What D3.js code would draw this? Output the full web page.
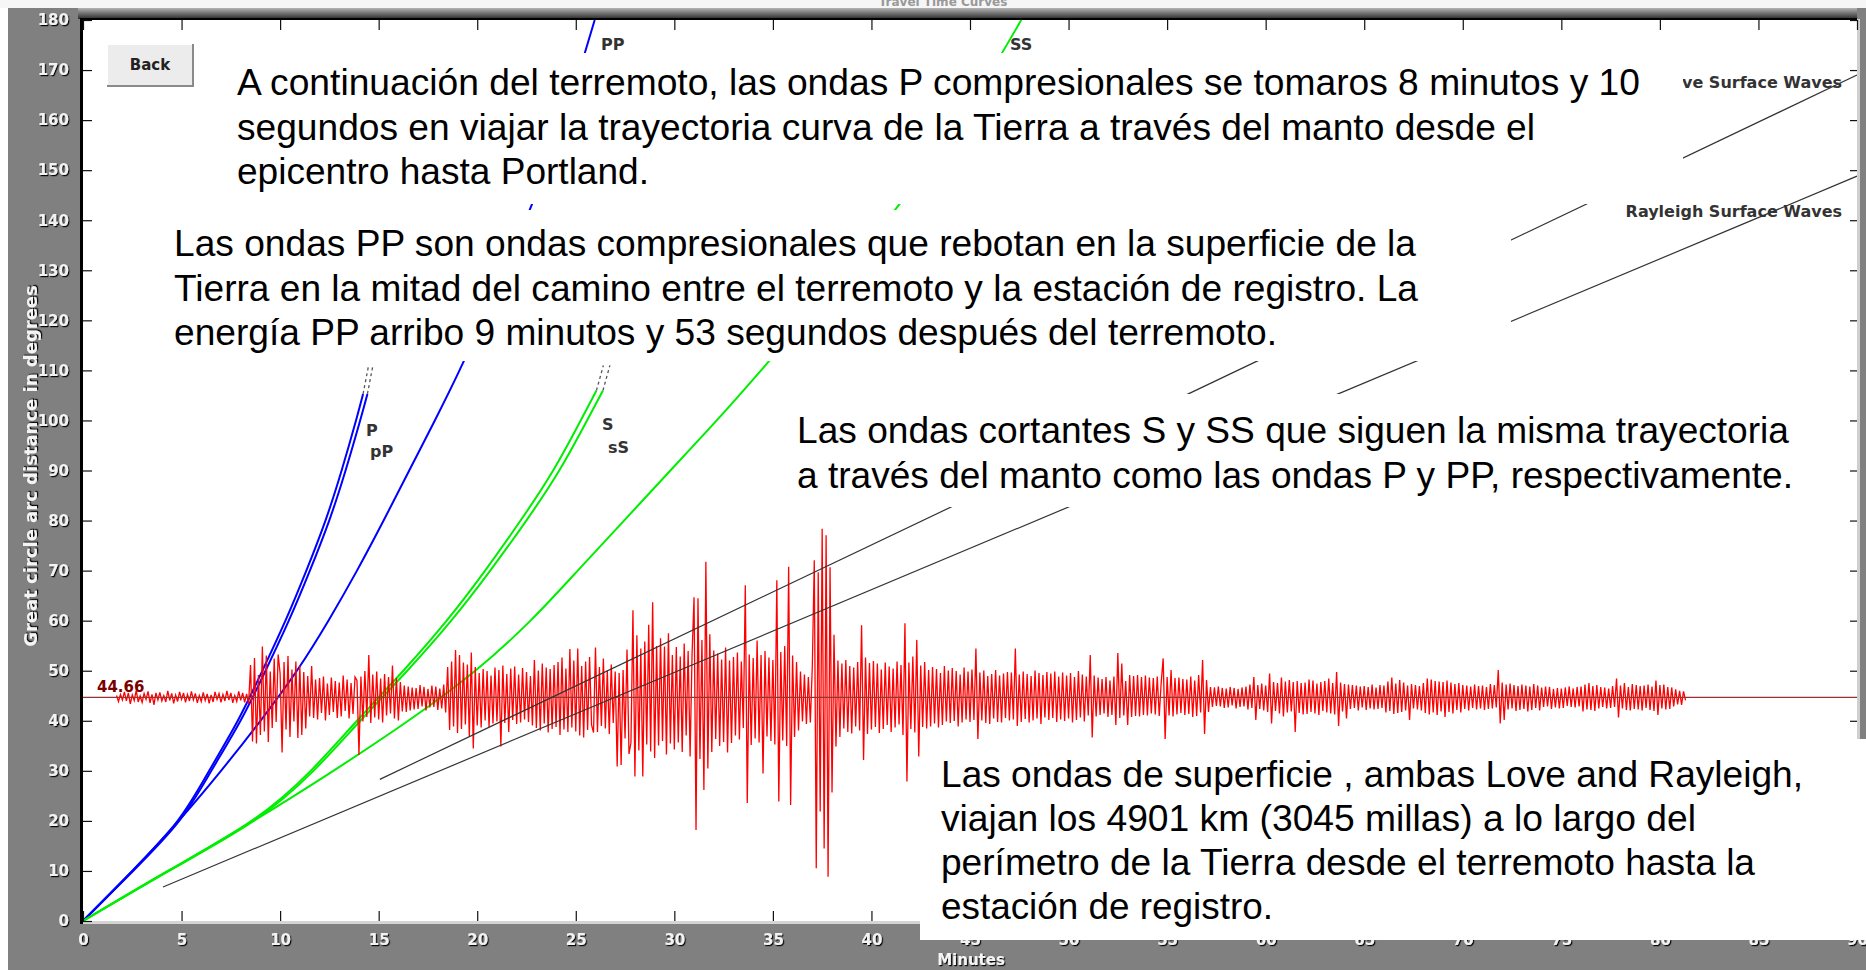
<!DOCTYPE html>
<html>
<head>
<meta charset="utf-8">
<title>Travel Time Curves</title>
<script src="https://cdn.jsdelivr.net/npm/d3@7"></script>
<style>
  body { margin: 0; background: #fff; }
  svg { display: block; }
  .note { font-family: "Liberation Sans", Arial, sans-serif; font-size: 36px; fill: #000; }
  .lbl { font-family: "DejaVu Sans", sans-serif; font-weight: bold; font-size: 16px; fill: #333; }
  .axis text { font-family: "DejaVu Sans", sans-serif; font-weight: bold; font-size: 15px; fill: #f2f2f2; }
</style>
</head>
<body>
<script>
// travel time curves, [minutes, degrees]
var pWave  = [[0,0],[2.5,10],[4.8,20],[6.4,30],[7.85,40],[9.1,50],[10.27,60],[11.33,70],[12.3,80],[13.12,90],[13.85,100],[14.21,105.3]];
var ppWave = [[0,0],[2.54,10],[4.88,20],[6.51,30],[7.99,40],[9.26,50],[10.44,60],[11.51,70],[12.49,80],[13.32,90],[14.06,100],[14.43,105.3]];
var PPWave = [[0,0],[2.5,10],[4.85,20],[7.0,30],[9.0,40],[10.85,50],[12.45,60],[13.9,70],[15.25,80],[16.55,90],[17.85,100],[19.1,110],[20.25,120],[21.35,130],[22.45,140],[23.45,150],[24.4,160],[25.2,170],[25.96,180]];
var sWave  = [[0,0],[4.3,10],[8.55,20],[11.55,30],[13.9,40],[16.25,50],[18.45,60],[20.4,70],[22.2,80],[23.85,90],[25.25,100],[26.05,106]];
var ssWave = [[0,0],[4.35,10],[8.65,20],[11.69,30],[14.07,40],[16.45,50],[18.68,60],[20.66,70],[22.49,80],[24.16,90],[25.57,100],[26.38,106]];
var SSWave = [[0,0],[4.35,10],[8.65,20],[12.7,30],[16.5,40],[19.9,50],[22.7,60],[25.1,70],[27.45,80],[29.8,90],[32.15,100],[34.4,110],[36.6,120],[38.75,130],[40.8,140],[42.7,150],[44.45,160],[46.1,170],[47.6,180]];
var loveWave     = [[15.06,28.3],[90,169]];
var rayleighWave = [[4.06,6.8],[90,148.8]];
// dotted continuation above the shadow zone
var pExt  = [[14.21,105.3],[14.47,110.6]];
var ppExt = [[14.43,105.3],[14.69,110.6]];
var sExt  = [[26.05,106],[26.4,111]];
var ssExt = [[26.38,106],[26.73,111]];

// seismogram at the station, offsets in degrees about the station distance
var stationDist = 44.66;
var traceStart = 1.7, traceStep = 0.1;
var traceRows = [
  [0.4,-0.8,0.6],
  [-0.5,1.1,-0.7,0.9,-1.3,0.5,-0.6,1.4,-0.9,0.3],
  [-1.0,0.8,-0.4,1.2,-1.1,0.6,-1.5,0.9,-0.5,1.0],
  [-0.7,0.4,-0.9,1.3,-0.6,0.8,-1.2,0.5,-0.8,1.1],
  [-0.4,0.9,-1.0,0.6,-0.7,1.2,-0.5,0.8,-1.1,0.4],
  [-0.8,1.0,-0.6,0.7,-1.2,0.5,-0.9,1.1,-0.4,0.8],
  [-1.0,0.6,-0.7,1.3,-0.5,0.9,-1.1,0.4,-0.8,1.2],
  [-0.6,0.9,-1.0,0.7,-1.3,6.5,-8.8,7.9,-9.2,4.5],
  [-7.5,10.2,-6.8,8.4,-8.9,5.2,-6.1,7.8,-4.9,8.6],
  [4.8,-11.0,7.1,-6.4,8.3,-7.9,5.6,-4.8,7.2,-8.1],
  [6.4,-7.5,5.1,-6.2,4.3,-3.8,6.3,-4.1,3.6,-4.4],
  [3.9,-3.1,4.2,-4.6,2.8,-3.5,4.0,-2.9,3.3,-4.1],
  [3.0,-3.8,4.4,-2.7,3.6,-4.2,2.9,-3.3,4.1,3.4],
  [-11.5,4.2,-4.8,5.3,-3.9,8.5,-5.1,4.6,-4.0,5.2],
  [-4.4,3.8,-5.0,4.7,-3.6,4.1,-3.2,6.4,-4.2,3.9],
  [-4.6,3.1,-2.8,2.4,-2.9,2.2,-2.6,2.0,-2.4,1.9],
  [-2.3,2.5,-1.8,2.1,-2.6,1.7,-2.0,2.4,-1.9,2.2],
  [-2.5,1.8,-2.2,2.6,-3.0,6.1,-6.5,7.2,-5.8,9.5],
  [-7.1,8.5,-6.3,7.0,-5.4,6.6,-7.8,9.0,-10.2,6.1],
  [-5.6,4.9,-6.0,5.7,-4.6,5.3,-5.9,4.4,-5.2,6.0],
  [-4.8,5.5,-9.8,6.4,-5.1,4.7,-6.9,5.8,-4.5,6.2],
  [-5.3,4.6,-5.0,5.9,-4.4,5.1,-4.9,4.3,-5.6,7.5],
  [-6.1,5.4,-6.6,6.8,-5.2,6.0,-7.0,5.7,-6.3,6.5],
  [-5.9,7.1,-7.5,8.0,-6.4,5.8,-6.9,9.7,-6.0,7.4],
  [-6.8,9.8,-7.6,6.3,-8.0,7.2,-6.5,8.1,-5.5,-7.0],
  [10.0,-6.9,6.1,-5.7,7.8,-6.2,5.4,-7.3,6.6,-5.1],
  [5.2,-13.8,4.9,-13.5,5.5,-8.2,9.6,-11.3,-9.0,17.4],
  [-15.8,12.4,-10.6,9.8,-15.8,11.2,-9.4,14.5,-10.8,19.0],
  [-12.1,10.3,-9.6,11.8,-8.7,10.2,-11.4,12.8,-9.2,8.5],
  [-10.4,10.1,-9.0,8.2,-10.9,10.8,-7.6,9.3,-11.8,8.8],
  [20.0,-26.5,19.8,-12.3,11.5,-18.5,27.1,-14.2,12.6,-10.9],
  [9.4,-8.3,8.8,-9.7,7.6,-8.9,10.0,-11.0,7.4,-9.1],
  [8.1,-7.6,9.0,-8.4,7.2,-6.1,22.4,-21.1,8.6,-9.5],
  [7.9,-8.2,11.4,-9.0,8.5,-15.2,9.3,-7.8,8.0,-8.7],
  [7.5,-9.4,23.4,-20.8,9.1,-8.6,10.3,-9.7,26.1,-21.5],
  [8.4,-7.9,7.1,-6.6,5.2,-4.8,4.6,-5.3,4.1,-5.0],
  [6.2,27.4,-34.1,25.0,-22.8,33.7,-30.2,32.4,-35.8,26.0],
  [-19.0,12.5,-9.8,7.4,-7.9,6.8,-6.2,7.5,-6.9,6.3],
  [-7.2,6.0,-5.8,7.1,-6.6,14.4,-12.5,8.0,-7.3,6.9],
  [-6.4,7.3,-5.9,6.8,-7.1,5.6,-6.3,7.0,-5.5,6.2],
  [-6.9,5.8,-6.0,7.2,-5.4,6.5,-7.5,14.8,-16.8,7.0],
  [-6.3,8.2,-7.0,11.5,-11.8,6.4,-5.9,7.1,-6.2,5.5],
  [-5.8,6.1,-5.2,5.7,-6.0,4.9,-5.5,6.3,-4.8,5.4],
  [-5.1,5.9,-4.7,5.3,-5.8,4.6,-5.0,6.0,-4.4,5.2],
  [-4.9,5.6,-4.5,9.8,-8.5,5.0,-4.6,5.4,-5.1,4.3],
  [-5.3,4.7,-4.2,5.5,-4.9,4.4,-5.0,4.8,-4.1,5.1],
  [-4.6,5.0,-4.4,9.8,-5.7,4.6,-4.9,5.2,-4.3,4.7],
  [-5.0,4.3,-4.6,5.4,-4.2,4.9,-5.3,4.5,-4.0,5.1],
  [-4.5,4.8,-4.1,5.2,-4.9,4.2,-4.4,5.0,-4.7,4.4],
  [-4.2,4.9,-5.0,4.1,-4.5,5.3,-4.0,4.6,-4.8,4.2],
  [-3.6,8.5,-8.0,4.4,-3.8,4.0,-3.5,3.7,-3.2,4.1],
  [-3.9,3.4,-3.5,4.2,-5.5,8.9,-4.1,6.8,-3.6,3.3],
  [-5.5,4.5,-3.9,4.3,-3.7,4.5,-3.8,4.1,-3.5,4.4],
  [-3.6,4.0,-3.2,3.9,-3.4,4.2,-3.7,3.0,7.8,-8.4],
  [4.1,-3.6,5.5,-3.8,3.9,-3.4,4.0,-3.1,3.7,-3.5],
  [3.6,-3.3,4.2,-3.9,3.4,-3.7,4.5,-3.0,7.5,-7.3],
  [3.5,-2.9,2.1,-1.9,2.0,-1.7,2.2,-1.8,1.9,-2.1],
  [1.8,-2.0,2.1,-1.6,1.9,-2.2,1.7,-1.9,2.0,-1.8],
  [2.2,-2.4,2.6,-2.1,4.1,-4.5,2.5,-2.3,2.8,-2.6],
  [2.4,-2.9,4.8,-5.2,3.1,-2.7,2.9,-3.2,4.0,-3.8],
  [3.2,-3.0,3.5,-2.8,3.1,-6.9,3.3,-3.1,2.9,-3.4],
  [3.0,-3.3,3.6,-2.9,3.4,-3.2,2.8,-3.5,3.1,-2.7],
  [3.3,-3.0,3.8,-3.2,2.9,-3.4,5.1,-5.7,3.0,-2.8],
  [2.7,-4.2,2.6,-2.3,2.5,-2.1,2.4,-2.6,2.2,-2.0],
  [2.3,-2.5,2.1,-2.2,2.6,-2.4,2.0,-2.3,2.5,-2.1],
  [2.4,-3.0,3.2,-2.7,4.0,-3.3,2.8,-3.1,3.5,-2.9],
  [3.0,-2.6,2.4,-4.5,2.7,-2.2,2.5,-2.4,2.3,-2.6],
  [2.9,-3.1,3.8,-3.4,3.6,-3.0,3.3,-3.5,3.2,-2.8],
  [3.1,-3.9,3.4,-2.9,3.0,-3.2,2.7,-2.5,2.9,-3.0],
  [2.5,-2.3,2.4,-2.6,2.2,-2.1,2.6,-2.4,2.3,-2.2],
  [2.4,-2.5,2.1,-2.3,2.7,-2.2,2.5,-2.0,5.5,-5.2],
  [3.0,-4.5,2.6,-2.4,2.8,-2.2,2.5,-2.7,2.3,-2.5],
  [2.6,-2.3,2.4,-2.8,2.2,-2.5,2.7,-2.1,2.4,-2.6],
  [2.0,-1.9,2.2,-1.8,2.1,-2.3,1.7,-2.0,1.9,-2.2],
  [1.8,-2.1,2.0,-1.7,2.2,-1.9,1.8,-2.0,2.1,-1.8],
  [2.2,-2.8,2.6,-2.4,2.9,-2.5,2.3,-2.7,2.5,-2.2],
  [2.1,-1.9,2.0,-2.2,1.8,-2.1,2.3,-1.9,3.8,-4.0],
  [2.4,-2.2,2.9,-2.5,2.1,-2.6,2.7,-2.3,2.5,-2.4],
  [2.3,-2.6,2.4,-2.1,2.6,-2.5,2.2,-2.7,3.4,-3.5],
  [2.5,-2.2,2.6,-2.4,2.1,-2.3,2.0,-1.8,1.6,-1.4],
  [1.3,-1.5,1.2,-0.6]
];

var minuteTicks = [0,5,10,15,20,25,30,35,40,45,50,55,60,65,70,75,80,85,90];
var degreeTicks = [0,10,20,30,40,50,60,70,80,90,100,110,120,130,140,150,160,170,180];

var note1 = ["A continuación del terremoto, las ondas P compresionales se tomaros 8 minutos y 10",
             "segundos en viajar la trayectoria curva de la Tierra a través del manto desde el",
             "epicentro hasta Portland."];
var note2 = ["Las ondas PP son ondas compresionales que rebotan en la superficie de la",
             "Tierra en la mitad del camino entre el terremoto y la estación de registro. La",
             "energía PP arribo 9 minutos y 53 segundos después del terremoto."];
var note3 = ["Las ondas cortantes S y SS que siguen la misma trayectoria",
             "a través del manto como las ondas P y PP, respectivamente."];
var note4 = ["Las ondas de superficie , ambas Love and Rayleigh,",
             "viajan los 4901 km (3045 millas) a lo largo del",
             "perímetro de la Tierra desde el terremoto hasta la",
             "estación de registro."];

var W = 1866, H = 970;
var plot = {left: 83, right: 1857, top: 20, bottom: 921};

var svg = d3.select("body").append("svg").attr("width", W).attr("height", H);
var defs = svg.append("defs");
defs.append("filter").attr("id", "emboss")
    .append("feDropShadow").attr("dx", 1.2).attr("dy", 1.2).attr("stdDeviation", 0.2)
    .attr("flood-color", "#000").attr("flood-opacity", 0.95);
var grad = defs.append("linearGradient").attr("id", "topbar").attr("x1", 0).attr("x2", 0).attr("y1", 0).attr("y2", 1);
grad.append("stop").attr("offset", "0%").attr("stop-color", "#b4b4b4");
grad.append("stop").attr("offset", "100%").attr("stop-color", "#2a2a2a");

var x = d3.scaleLinear().domain([0, 90]).range([plot.left, plot.right]);
var y = d3.scaleLinear().domain([0, 180]).range([plot.bottom, plot.top]);

// window chrome
svg.append("rect").attr("x", 0).attr("y", 0).attr("width", W).attr("height", 8).attr("fill", "#f6f6f6");
svg.append("text").attr("x", 943).attr("y", 6).attr("text-anchor", "middle")
    .style("font", "bold 12px 'DejaVu Sans', sans-serif").attr("fill", "#999").text("Travel Time Curves");
svg.append("rect").attr("x", 8).attr("y", 8).attr("width", W - 8).attr("height", H - 8).attr("fill", "#808080");
svg.append("rect").attr("x", 78).attr("y", 8).attr("width", plot.right - 78).attr("height", 11).attr("fill", "url(#topbar)");
svg.append("rect").attr("x", plot.left).attr("y", plot.top)
    .attr("width", plot.right - plot.left).attr("height", plot.bottom - plot.top).attr("fill", "#fff");

var line = d3.line().x(function(d) { return x(d[0]); }).y(function(d) { return y(d[1]); })
    .curve(d3.curveNatural);
var straight = d3.line().x(function(d) { return x(d[0]); }).y(function(d) { return y(d[1]); });

var curves = svg.append("g").attr("fill", "none").attr("stroke-width", 2);
[[pWave, "#0000ff"], [ppWave, "#0000ff"], [PPWave, "#0000ff"],
 [sWave, "#00ee00"], [ssWave, "#00ee00"], [SSWave, "#00ee00"]].forEach(function(c) {
  curves.append("path").attr("d", line(c[0])).attr("stroke", c[1]);
});
[pExt, ppExt, sExt, ssExt].forEach(function(e) {
  svg.append("path").attr("d", straight(e)).attr("fill", "none")
     .attr("stroke", "#555").attr("stroke-width", 1.3).attr("stroke-dasharray", "3,3");
});

// seismogram
var trace = [].concat.apply([], traceRows);
svg.append("path")
    .attr("d", d3.line()
        .x(function(d, i) { return x(traceStart + i * traceStep); })
        .y(function(d) { return y(stationDist + d); })(trace))
    .attr("fill", "none").attr("stroke", "#ff0000").attr("stroke-width", 1.3).attr("stroke-linejoin", "miter");
svg.append("line").attr("x1", plot.left).attr("x2", plot.right)
    .attr("y1", y(stationDist)).attr("y2", y(stationDist))
    .attr("stroke", "#9a3030").attr("stroke-width", 1.2);
svg.append("text").attr("x", 97).attr("y", y(stationDist) - 5)
    .style("font", "bold 15px 'DejaVu Sans', sans-serif").attr("fill", "#7a0000").text(stationDist.toFixed(2));

// surface waves
[loveWave, rayleighWave].forEach(function(w) {
  svg.append("path").attr("d", straight(w)).attr("fill", "none")
     .attr("stroke", "#333").attr("stroke-width", 1.2);
});

// phase labels
var labels = svg.append("g").attr("class", "lbl");
labels.append("text").attr("x", 366).attr("y", 436).text("P");
labels.append("text").attr("x", 370).attr("y", 457).text("pP");
labels.append("text").attr("x", 602).attr("y", 430).text("S");
labels.append("text").attr("x", 608).attr("y", 453).text("sS");
labels.append("text").attr("x", 601).attr("y", 50).text("PP");
labels.append("text").attr("x", 1010).attr("y", 50).text("SS");
labels.append("text").attr("x", 1842).attr("y", 88).attr("text-anchor", "end").text("Love Surface Waves");
labels.append("text").attr("x", 1842).attr("y", 217).attr("text-anchor", "end").text("Rayleigh Surface Waves");

// frame
svg.append("line").attr("x1", 81.5).attr("x2", 81.5).attr("y1", 18).attr("y2", 924).attr("stroke", "#000").attr("stroke-width", 3);
svg.append("line").attr("x1", 80).attr("x2", plot.right).attr("y1", 19).attr("y2", 19).attr("stroke", "#000").attr("stroke-width", 2);
svg.append("line").attr("x1", 83).attr("x2", plot.right + 2).attr("y1", 922.5).attr("y2", 922.5).attr("stroke", "#d4d4d4").attr("stroke-width", 3);
svg.append("line").attr("x1", 1858.5).attr("x2", 1858.5).attr("y1", 19).attr("y2", 924).attr("stroke", "#cfcfcf").attr("stroke-width", 3);

function styleAxis(g) {
  g.select(".domain").remove();
  g.selectAll(".tick line").attr("stroke", "#111").attr("stroke-width", 1.2);
  g.selectAll(".tick text").attr("filter", "url(#emboss)");
}
svg.append("g").attr("class", "axis").attr("transform", "translate(0," + plot.bottom + ")")
    .call(d3.axisBottom(x).tickValues(minuteTicks).tickSize(-10).tickPadding(13)).call(styleAxis);
svg.append("g").attr("class", "axis").attr("transform", "translate(" + plot.left + ",0)")
    .call(d3.axisLeft(y).tickValues(degreeTicks).tickSize(-9).tickPadding(14)).call(styleAxis);
svg.append("g").attr("class", "axis").attr("transform", "translate(0," + plot.top + ")")
    .call(d3.axisTop(x).tickValues(minuteTicks).tickSize(-10).tickFormat(function() { return ""; })).call(styleAxis);
svg.append("g").attr("class", "axis").attr("transform", "translate(" + plot.right + ",0)")
    .call(d3.axisRight(y).tickValues(degreeTicks).tickSize(-7).tickFormat(function() { return ""; })).call(styleAxis);

svg.append("text").attr("transform", "translate(37,466) rotate(-90)").attr("text-anchor", "middle")
    .style("font", "bold 18px 'DejaVu Sans', sans-serif").attr("fill", "#f4f4f4").attr("filter", "url(#emboss)")
    .text("Great circle arc distance in degrees");
svg.append("text").attr("x", 971).attr("y", 965).attr("text-anchor", "middle")
    .style("font", "bold 15px 'DejaVu Sans', sans-serif").attr("fill", "#f4f4f4").attr("filter", "url(#emboss)")
    .text("Minutes");

// text boxes laid over the chart
function note(lines, box, tx, baselines, widths) {
  svg.append("rect").attr("x", box[0]).attr("y", box[1]).attr("width", box[2]).attr("height", box[3]).attr("fill", "#fff");
  lines.forEach(function(s, i) {
    svg.append("text").attr("class", "note").attr("x", tx).attr("y", baselines[i])
       .attr("textLength", widths[i]).attr("lengthAdjust", "spacingAndGlyphs").text(s);
  });
}
note(note1, [225, 53, 1458, 151], 237, [95, 139.5, 184], [1403, 1298, 412]);
note(note2, [165, 210, 1346, 151], 174, [256, 300.5, 345], [1242, 1244, 1103]);
note(note3, [786, 394, 1026, 113], 797, [443, 488], [992, 996]);
note(note4, [920, 739, 946, 201], 941, [787, 831, 875, 919], [862, 755, 814, 332]);

// Back button
var btn = svg.append("g");
btn.append("rect").attr("x", 107).attr("y", 44).attr("width", 86).attr("height", 42).attr("fill", "#ececec");
btn.append("path").attr("d", "M107,86 V44 H193").attr("fill", "none").attr("stroke", "#fff").attr("stroke-width", 2);
btn.append("path").attr("d", "M107,86 H193 V44").attr("fill", "none").attr("stroke", "#8a8a8a").attr("stroke-width", 2);
btn.append("text").attr("x", 150).attr("y", 70).attr("text-anchor", "middle")
   .style("font", "bold 15px 'DejaVu Sans', sans-serif").attr("fill", "#222").text("Back");
</script>
</body>
</html>
